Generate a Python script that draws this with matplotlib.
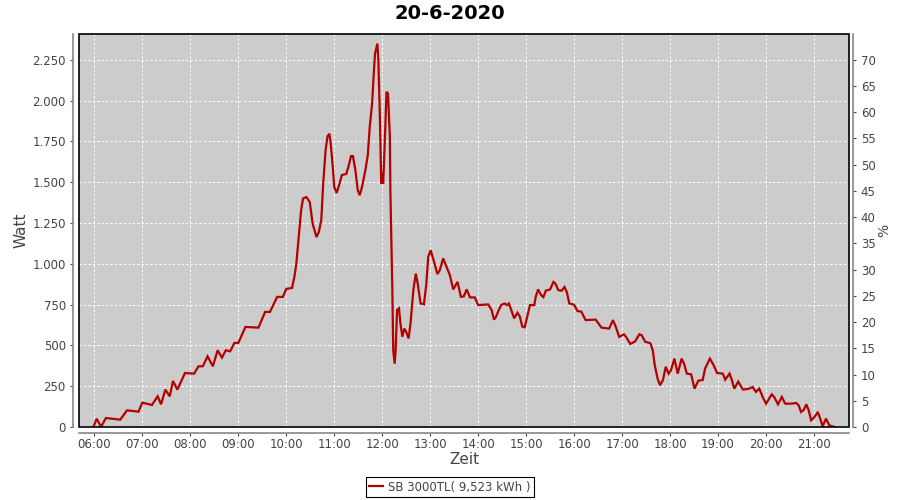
import numpy as np
import matplotlib
matplotlib.use('Agg')
import matplotlib.pyplot as plt
from matplotlib.patches import Rectangle
from matplotlib.ticker import FuncFormatter

# time of day in hours, power in W
zeit = [5.98, 6.05, 6.14, 6.24, 6.54, 6.68, 6.92, 7.00, 7.20, 7.32, 7.39, 7.48, 7.57, 7.64, 7.73,
        7.89, 8.08, 8.17, 8.26, 8.36, 8.47, 8.57, 8.66, 8.74, 8.83, 8.92, 9.00, 9.15, 9.42, 9.56,
        9.66, 9.81, 9.93, 10.00, 10.12, 10.17, 10.21, 10.26, 10.31, 10.35, 10.42, 10.49, 10.55,
        10.63, 10.68, 10.73, 10.77, 10.82, 10.86, 10.90, 10.93, 10.97, 11.00, 11.05, 11.09, 11.16,
        11.25, 11.30, 11.35, 11.39, 11.44, 11.49, 11.53, 11.58, 11.65, 11.70, 11.74, 11.79, 11.82,
        11.85, 11.90, 11.92, 11.95, 11.98, 12.00, 12.02, 12.05, 12.09, 12.12, 12.16, 12.17, 12.19,
        12.21, 12.23, 12.26, 12.28, 12.31, 12.35, 12.38, 12.42, 12.46, 12.50, 12.55, 12.59, 12.65,
        12.70, 12.74, 12.80, 12.87, 12.92, 12.96, 13.01, 13.09, 13.15, 13.20, 13.27, 13.34, 13.41,
        13.48, 13.57, 13.64, 13.70, 13.76, 13.83, 13.93, 14.00, 14.21, 14.28, 14.33, 14.37, 14.43,
        14.48, 14.55, 14.60, 14.64, 14.69, 14.75, 14.82, 14.87, 14.92, 14.97, 15.03, 15.08, 15.17,
        15.20, 15.25, 15.31, 15.36, 15.41, 15.50, 15.57, 15.61, 15.67, 15.74, 15.80, 15.85, 15.90,
        16.00, 16.07, 16.15, 16.24, 16.45, 16.57, 16.73, 16.81, 16.87, 16.94, 17.04, 17.09, 17.17,
        17.27, 17.36, 17.41, 17.48, 17.59, 17.64, 17.68, 17.74, 17.79, 17.85, 17.91, 17.97, 18.02,
        18.09, 18.16, 18.24, 18.29, 18.35, 18.44, 18.51, 18.59, 18.68, 18.73, 18.83, 18.91, 18.98,
        19.10, 19.15, 19.24, 19.29, 19.34, 19.42, 19.52, 19.65, 19.72, 19.79, 19.86, 19.93, 20.00,
        20.12, 20.17, 20.25, 20.33, 20.40, 20.52, 20.63, 20.68, 20.73, 20.79, 20.84, 20.89, 20.94,
        21.01, 21.08, 21.13, 21.18, 21.25, 21.32, 21.43]
watt = [0, 51, 0, 55, 45, 102, 94, 149, 135, 188, 139, 229, 188, 282, 229,
        331, 327, 372, 372, 433, 372, 470, 425, 470, 464, 515, 515, 613, 609, 705,
        705, 797, 797, 846, 852, 920, 1001, 1166, 1329, 1400, 1409, 1378, 1246,
        1164, 1195, 1268, 1491, 1697, 1781, 1797, 1727, 1593, 1471, 1434, 1471, 1544,
        1550, 1599, 1660, 1660, 1575, 1452, 1420, 1471, 1575, 1666, 1838, 1982, 2145,
        2288, 2349, 2247, 1921, 1492, 1553, 1492, 1716, 2054, 2043, 1779, 1452, 1144,
        860, 470, 388, 470, 717, 727, 634, 553, 603, 583, 543, 634, 840,
        940, 879, 757, 752, 879, 1043, 1083, 1003, 937, 960, 1033, 982, 931,
        843, 889, 798, 800, 843, 794, 794, 747, 751, 717, 658, 674, 717,
        747, 757, 747, 757, 717, 666, 700, 676, 615, 611, 686, 747, 747,
        798, 843, 809, 796, 835, 843, 889, 879, 839, 835, 858, 825, 757,
        749, 710, 707, 655, 658, 609, 603, 655, 613, 552, 568, 549, 509,
        524, 568, 562, 523, 513, 470, 380, 297, 256, 286, 369, 327, 348,
        419, 327, 419, 389, 327, 323, 235, 284, 288, 358, 419, 378, 331,
        327, 290, 327, 286, 235, 278, 229, 235, 245, 215, 235, 184, 143,
        200, 184, 139, 184, 143, 143, 147, 133, 92, 106, 139, 102, 41,
        61, 92, 51, 4, 51, 10, 0]

stunden = list(range(6, 22))
stunden_labels = ['%02d:00' % h for h in stunden]
watt_ticks = [0, 250, 500, 750, 1000, 1250, 1500, 1750, 2000, 2250]
prozent_ticks = list(range(0, 75, 5))

titel = '20-6-2020'
legende = 'SB 3000TL( 9,523 kWh )'

grau = '#444444'
fig = plt.figure(figsize=(9, 5), dpi=100)
ax = fig.add_axes([79/900, 73/500, 770/900, 393/500])
ax.set_facecolor('#cccccc')

ax.plot(zeit, watt, color='#b40000', lw=1.6, label=legende, solid_joinstyle='miter')

ax.set_xlim(5.68, 21.73)
ax.set_ylim(0, 2408)
ax.set_xticks(stunden)
ax.set_xticklabels(stunden_labels)
ax.set_yticks(watt_ticks)
ax.yaxis.set_major_formatter(FuncFormatter(lambda v, p: f'{v:,.0f}'.replace(',', '.')))
ax.grid(True, color='white', ls=(0, (2, 2)), lw=0.8)

ax2 = ax.twinx()
ax2.set_ylim(0, 2408 * 70 / 2250)
ax2.set_yticks(prozent_ticks)

for a in (ax, ax2):
    for s in a.spines.values():
        s.set_visible(False)
    a.tick_params(colors=grau, labelsize=8.5, length=2, width=0.8, direction='out')
ax.spines['left'].set_visible(True)
ax.spines['bottom'].set_visible(True)
ax.spines['left'].set_position(('outward', 4))
ax.spines['bottom'].set_position(('outward', 4))
ax2.spines['right'].set_visible(True)
ax2.spines['right'].set_position(('outward', 3))
for s in (ax.spines['left'], ax.spines['bottom'], ax2.spines['right']):
    s.set_color('#888888')
    s.set_linewidth(1.2)
ax.tick_params(axis='x', pad=2)

ax.add_patch(Rectangle((0, 0), 1, 1, transform=ax.transAxes, fill=False,
                       edgecolor='black', lw=1.2, clip_on=False, zorder=5))

ax.set_xlabel('Zeit', fontsize=11, color=grau, labelpad=1)
ax.set_ylabel('Watt', fontsize=11, color=grau, labelpad=3)
ax2.set_ylabel('%', fontsize=10, color=grau, labelpad=1)

fig.suptitle(titel, y=0.973, va='center', fontsize=14, fontweight='bold', color='black')

leg = fig.legend(loc='center', bbox_to_anchor=(0.5, 0.026), fontsize=8.5, fancybox=False,
                 edgecolor='black', framealpha=1, handlelength=1.2, handletextpad=0.4,
                 borderpad=0.3, borderaxespad=0)
leg.get_frame().set_linewidth(0.8)
for t in leg.get_texts():
    t.set_color(grau)

plt.savefig('out.png', dpi=100)
